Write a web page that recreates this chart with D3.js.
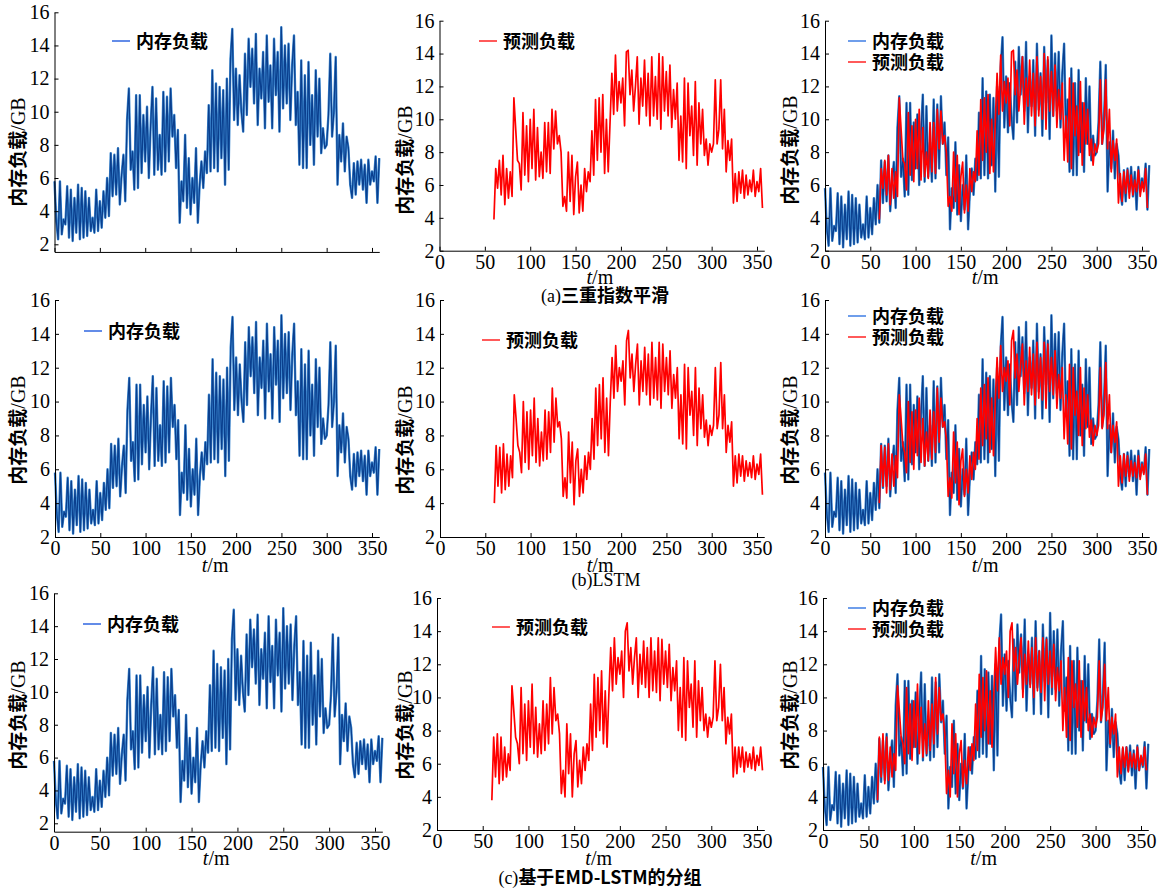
<!DOCTYPE html>
<html>
<head>
<meta charset="utf-8">
<script src="https://cdn.jsdelivr.net/npm/d3@7"></script>
<style>
  body { margin: 0; background: #fff; }
</style>
</head>
<body>
<div class="vis"></div>
<script>
// tick labels
const yTicks = [2, 4, 6, 8, 10, 12, 14, 16];
const xTicks = [0, 50, 100, 150, 200, 250, 300, 350];

// sampling times (minutes)
const actualTimes = d3.range(0, 360, 2);
const predTimes = d3.range(60, 358, 2);

const actualLoad = [
    5.8, 3.4, 2.3, 5.8, 2.6, 3.5, 3.2, 5.5, 2.4, 5.3,
    2.2, 4.8, 2.7, 5.6, 2.3, 5.4, 2.4, 5.2, 2.5, 4.8,
    2.8, 3.6, 2.7, 5.3, 2.8, 4.6, 3.0, 5.2, 3.6, 6.0,
    3.7, 7.5, 4.9, 7.4, 5.0, 7.8, 4.4, 6.2, 7.4, 4.6,
    9.5, 11.4, 6.5, 7.6, 5.3, 11.0, 5.4, 11.0, 6.3, 9.8,
    7.0, 10.3, 6.0, 9.2, 11.5, 6.2, 10.8, 6.5, 8.6, 6.2,
    11.2, 6.4, 10.9, 7.0, 11.4, 8.5, 9.8, 6.6, 8.9, 3.3,
    5.8, 4.6, 8.6, 4.2, 7.2, 3.8, 6.0, 4.5, 7.8, 3.3,
    5.6, 7.0, 5.4, 7.6, 6.3, 10.4, 6.4, 12.5, 6.6, 11.7,
    6.4, 11.5, 7.2, 11.3, 5.6, 12.0, 6.5, 13.2, 15.0, 9.5,
    12.6, 9.2, 12.2, 10.0, 8.8, 13.5, 9.8, 14.4, 11.5, 13.8,
    10.5, 14.7, 9.2, 12.6, 10.8, 13.6, 9.0, 14.6, 10.6, 12.8,
    9.0, 14.4, 11.0, 13.6, 8.8, 15.1, 10.2, 14.0, 10.5, 14.1,
    9.5, 12.8, 14.6, 9.2, 11.2, 6.8, 13.1, 6.6, 12.2, 6.6,
    13.0, 8.0, 11.0, 6.8, 12.5, 8.5, 12.0, 7.5, 9.0, 7.8,
    8.0, 9.8, 13.5, 8.5, 10.0, 13.3, 5.6, 8.6, 7.0, 9.3,
    6.4, 8.5, 7.8, 5.6, 4.8, 6.9, 5.0, 7.0, 5.6, 7.1,
    5.3, 6.8, 4.5, 7.1, 5.6, 6.4, 5.8, 7.3, 4.5, 7.2
];

// (a) triple exponential smoothing prediction
const predTES = [
    3.9, 7.0, 5.8, 7.5, 5.4, 7.8, 4.8, 7.0, 5.2, 6.8,
    5.3, 11.3, 9.4, 7.5, 7.3, 5.7, 10.4, 6.6, 9.6, 6.2,
    10.0, 7.0, 10.6, 6.3, 9.5, 6.5, 8.0, 6.4, 9.8, 6.8,
    9.8, 6.7, 10.6, 8.2, 10.5, 8.5, 9.0, 8.0, 4.7, 5.3,
    4.4, 8.0, 5.0, 7.8, 4.2, 6.5, 7.4, 4.3, 6.0, 4.4,
    7.0, 5.6, 6.8, 6.2, 9.3, 6.6, 11.2, 7.5, 11.3, 8.0,
    11.5, 6.7, 10.0, 6.8, 9.8, 12.8, 10.3, 13.9, 10.5, 12.3,
    11.0, 12.5, 9.6, 14.1, 14.2, 11.5, 13.0, 10.5, 12.0, 13.8,
    9.7, 12.5, 10.8, 13.6, 10.2, 12.8, 9.6, 13.8, 10.2, 12.6,
    10.0, 14.0, 9.4, 13.8, 10.5, 12.9, 10.2, 13.3, 9.5, 11.8,
    10.0, 12.2, 7.5, 10.2, 7.4, 12.5, 7.0, 12.2, 9.0, 10.8,
    7.8, 12.3, 7.2, 11.0, 8.5, 10.6, 7.8, 8.8, 7.2, 8.5,
    8.0, 8.5, 12.4, 8.5, 9.4, 12.4, 8.2, 10.6, 6.8, 8.7,
    7.5, 8.8, 4.9, 6.7, 5.0, 6.8, 5.5, 6.9, 5.2, 6.6,
    5.4, 6.3, 5.6, 6.9, 5.3, 6.2, 5.6, 7.0, 4.6
];

// (b) LSTM prediction
const predLSTM = [
    4.0, 7.4, 5.0, 7.3, 4.6, 7.5, 4.8, 6.9, 5.0, 6.8,
    5.5, 10.4, 9.0, 7.4, 7.0, 5.8, 10.0, 6.4, 9.4, 6.0,
    9.5, 6.8, 10.2, 6.4, 9.0, 6.2, 8.2, 6.5, 9.5, 6.6,
    9.4, 7.0, 10.8, 7.6, 10.2, 8.5, 8.8, 7.8, 4.4, 5.5,
    4.3, 8.2, 5.2, 7.6, 3.9, 6.5, 7.2, 4.4, 6.0, 4.6,
    6.8, 5.4, 7.0, 6.0, 9.0, 6.6, 10.8, 7.4, 11.0, 7.8,
    11.4, 7.0, 10.2, 6.8, 10.0, 12.6, 10.2, 13.3, 10.6, 12.0,
    11.2, 12.4, 9.8, 13.6, 14.2, 11.4, 12.8, 10.6, 12.2, 13.4,
    9.8, 12.4, 10.6, 13.2, 10.4, 12.8, 9.8, 13.5, 10.2, 12.6,
    10.1, 13.5, 9.6, 13.4, 10.6, 12.6, 10.4, 13.0, 9.6, 11.6,
    10.2, 12.0, 7.8, 10.4, 7.5, 12.2, 7.2, 12.0, 9.2, 10.6,
    8.0, 12.0, 7.4, 10.8, 8.4, 10.4, 7.9, 8.9, 7.4, 8.6,
    8.0, 8.6, 12.0, 8.4, 9.2, 12.3, 8.4, 10.4, 7.0, 8.6,
    7.6, 8.8, 5.0, 6.8, 5.2, 6.9, 5.6, 6.8, 5.3, 6.5,
    5.6, 6.4, 5.5, 6.8, 5.4, 6.3, 5.7, 6.9, 4.5
];

// (c) EMD-LSTM grouped prediction
const predEMD = [
    3.8, 7.6, 5.2, 7.8, 4.8, 7.6, 5.0, 7.0, 5.2, 6.6,
    5.6, 10.7, 9.2, 7.6, 7.2, 6.0, 10.6, 6.6, 9.6, 6.2,
    9.8, 7.0, 10.8, 6.6, 9.4, 6.4, 8.4, 6.6, 9.8, 6.8,
    9.6, 7.2, 11.2, 7.8, 10.6, 8.6, 9.0, 7.8, 4.2, 5.6,
    4.0, 8.4, 5.4, 7.8, 4.0, 6.6, 7.4, 4.6, 6.2, 4.8,
    7.0, 5.6, 7.2, 6.2, 9.6, 6.8, 11.4, 7.6, 11.2, 8.0,
    11.6, 7.2, 10.4, 7.0, 10.2, 13.0, 10.4, 13.6, 10.8, 12.4,
    11.4, 12.8, 10.0, 14.0, 14.5, 11.6, 13.0, 10.8, 12.4, 13.6,
    10.0, 12.6, 10.8, 13.4, 10.6, 13.0, 10.0, 13.6, 10.4, 12.8,
    10.3, 13.6, 9.8, 13.5, 10.8, 12.8, 10.6, 13.2, 9.8, 11.8,
    10.4, 12.2, 8.0, 10.6, 7.6, 12.4, 7.4, 12.2, 9.4, 10.8,
    8.2, 12.2, 7.6, 11.0, 8.6, 10.6, 8.0, 9.0, 7.6, 8.8,
    8.2, 8.8, 12.2, 8.6, 9.4, 12.0, 8.6, 10.6, 7.2, 8.8,
    7.8, 9.0, 5.2, 7.0, 5.4, 7.0, 5.8, 7.0, 5.5, 6.7,
    5.8, 6.6, 5.7, 7.0, 5.6, 6.5, 5.9, 7.0, 5.6
];

const captions = [
    { tag: "(a)", text: "三重指数平滑" },
    { tag: "(b)", text: "LSTM" },
    { tag: "(c)", text: "基于EMD-LSTM的分组" }
];
const predictions = [predTES, predLSTM, predEMD];

const serif = '"Liberation Serif", "Times New Roman", serif';
const cjk = '"Noto Sans CJK SC", sans-serif';
const blueDark = "#0a3f8e", blueLight = "#3f8ad2", red = "#ff0000";

// layout of each row / panel (pixels)
const rows = [
    { xlabY: 284, capX: 605, capY: 302, panels: [
        { x0: 54.5, x350: 372, y16: 12.3, y2: 244.3, yMin: 1.54, noXLabels: true, yl: 19, ylc: 152, leg: [112, 41] },
        { x0: 439.5, x350: 757, y16: 20.7, y2: 250.7, yMin: 2, yl: 406, ylc: 160, leg: [479, 41] },
        { x0: 825, x350: 1142, y16: 20.7, y2: 250.7, yMin: 2, yl: 791, ylc: 150, leg: [848, 41] }
    ]},
    { xlabY: 572, capX: 606, capY: 586, panels: [
        { x0: 55, x350: 372, y16: 300, y2: 537, yMin: 2, yl: 19, ylc: 430, leg: [84, 331] },
        { x0: 440, x350: 757, y16: 300, y2: 537, yMin: 2, yl: 406, ylc: 440, leg: [482, 340] },
        { x0: 825, x350: 1142, y16: 300, y2: 537, yMin: 2, yl: 791, ylc: 430, leg: [848, 316] }
    ]},
    { xlabY: 865, capX: 600, capY: 884, panels: [
        { x0: 54, x350: 375, y16: 593.3, y2: 823.3, yMin: 1.49, yl: 19, ylc: 715, leg: [83, 624] },
        { x0: 437, x350: 757, y16: 598, y2: 830, yMin: 2, yl: 406, ylc: 725, leg: [492, 627] },
        { x0: 823, x350: 1141, y16: 598, y2: 830, yMin: 2, yl: 791, ylc: 715, leg: [848, 608] }
    ]}
];

const svg = d3.select(".vis").append("svg")
    .attr("width", 1163)
    .attr("height", 892)
    .style("font-family", serif);

function drawBlue(g, x, y) {
    const line = d3.line().x((d, i) => x(actualTimes[i])).y(d => y(d));
    g.append("path").datum(actualLoad)
        .attr("d", line).attr("fill", "none")
        .attr("stroke", blueLight).attr("stroke-width", 2.4).attr("stroke-linejoin", "round");
    g.append("path").datum(actualLoad)
        .attr("d", line).attr("fill", "none")
        .attr("stroke", blueDark).attr("stroke-width", 1.2).attr("stroke-linejoin", "round");
}

function drawRed(g, x, y, data) {
    const line = d3.line().x((d, i) => x(predTimes[i])).y(d => y(d));
    g.append("path").datum(data)
        .attr("d", line).attr("fill", "none")
        .attr("stroke", red).attr("stroke-width", 1.7).attr("stroke-linejoin", "round");
}

function legendItem(g, lx, ly, color, label) {
    g.append("line")
        .attr("x1", lx).attr("x2", lx + 18)
        .attr("y1", ly).attr("y2", ly)
        .attr("stroke", color).attr("stroke-width", 1.6);
    g.append("text")
        .attr("x", lx + 24).attr("y", ly + 7)
        .style("font-family", cjk).style("font-weight", "bold").style("font-size", "18px")
        .text(label);
}

rows.forEach((row, r) => {
    row.panels.forEach((p, c) => {
        const g = svg.append("g");
        const k = (p.x350 - p.x0) / 350;
        const x = d3.scaleLinear().domain([0, 358]).range([p.x0, p.x0 + k * 358]);
        const unit = (p.y2 - p.y16) / 14;
        const y = d3.scaleLinear().domain([p.yMin, 16]).range([p.y2 + unit * (2 - p.yMin), p.y16]);

        // series
        if (c === 0) drawBlue(g, x, y);
        if (c === 1) drawRed(g, x, y, predictions[r]);
        if (c === 2) { drawBlue(g, x, y); drawRed(g, x, y, predictions[r]); }

        // axes
        const xAxis = d3.axisBottom(x).tickValues(xTicks)
            .tickSize(-4).tickSizeOuter(0).tickPadding(4);
        if (p.noXLabels) xAxis.tickFormat("");
        g.append("g")
            .attr("transform", "translate(0," + y(p.yMin) + ")")
            .call(xAxis)
            .call(a => a.selectAll("text").style("font-family", serif).style("font-size", "20px").attr("fill", "#000"));

        g.append("g")
            .attr("transform", "translate(" + x(0) + ",0)")
            .call(d3.axisLeft(y).tickValues(yTicks).tickSize(-4).tickSizeOuter(0).tickPadding(5))
            .call(a => a.selectAll("text").style("font-family", serif).style("font-size", "20px").attr("fill", "#000"));

        g.selectAll(".domain, .tick line").attr("stroke", "#000");

        // y label
        const yl = g.append("text")
            .attr("transform", "translate(" + p.yl + "," + p.ylc + ") rotate(-90)")
            .attr("text-anchor", "middle")
            .attr("dy", "0.35em");
        yl.append("tspan").text("内存负载")
            .style("font-family", cjk).style("font-weight", "bold").style("font-size", "19px");
        yl.append("tspan").text("/GB")
            .style("font-family", serif).style("font-size", "20px");

        // x label
        if (!p.noXLabels) {
            const xl = g.append("text")
                .attr("x", (p.x0 + x(358)) / 2 - 2)
                .attr("y", row.xlabY)
                .attr("text-anchor", "middle")
                .style("font-size", "20px");
            xl.append("tspan").text("t").style("font-style", "italic");
            xl.append("tspan").text("/m");
        }

        // legend
        if (c === 0) legendItem(g, p.leg[0], p.leg[1], "#3b6fe3", "内存负载");
        if (c === 1) legendItem(g, p.leg[0], p.leg[1], "#ff3030", "预测负载");
        if (c === 2) {
            legendItem(g, p.leg[0], p.leg[1], "#4b86e6", "内存负载");
            legendItem(g, p.leg[0], p.leg[1] + 21, "#ff3030", "预测负载");
        }
    });

    // caption
    const cap = svg.append("text")
        .attr("x", row.capX).attr("y", row.capY)
        .attr("text-anchor", "middle")
        .style("font-size", "18px");
    cap.append("tspan").text(captions[r].tag).style("font-family", serif);
    cap.append("tspan").text(captions[r].text)
        .style("font-family", r === 1 ? serif : cjk)
        .style("font-weight", r === 1 ? "normal" : "bold");
});
</script>
</body>
</html>
